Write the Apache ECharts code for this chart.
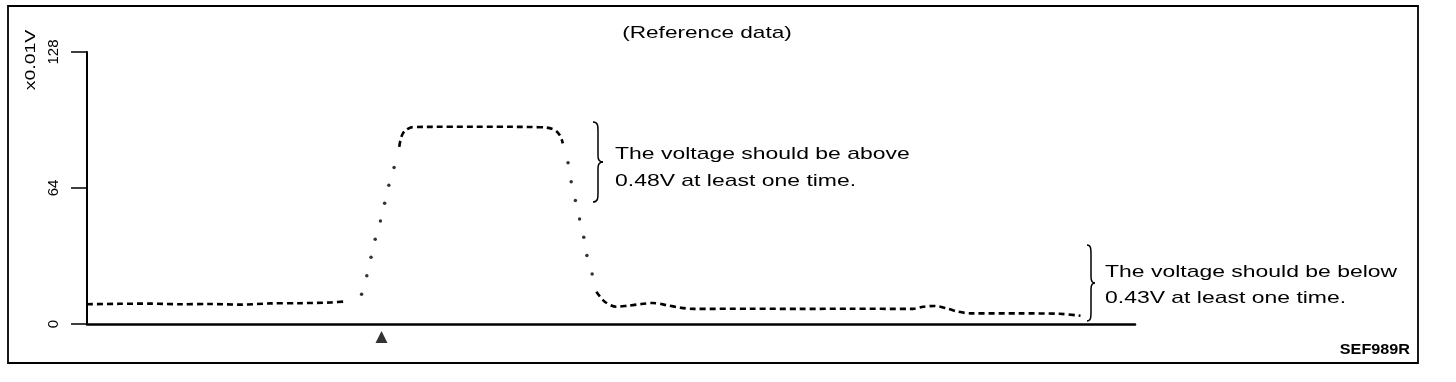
<!DOCTYPE html>
<html>
<head>
<meta charset="utf-8">
<script src="https://cdn.jsdelivr.net/npm/echarts@6/dist/echarts.min.js"></script>
<style>
html,body{margin:0;padding:0;background:#fff;}
#chart{width:1456px;height:382px;}
</style>
</head>
<body>
<div id="chart"></div>
<script>
// Values in units of x0.01 V, time in arbitrary units (0..100)
const baselineT = [0, 3.1, 6.0, 8.9, 11.7, 14.6, 17.5, 20.3, 23.2, 24.8];
const baselineV = [9.3, 9.5, 9.6, 9.3, 9.4, 9.1, 9.7, 9.8, 10.1, 10.7];
const riseT = [26.2, 26.7, 27.1, 27.5, 28.0, 28.4, 28.8, 29.3];
const riseV = [14.0, 22.7, 31.4, 39.9, 48.5, 56.8, 65.3, 73.7];
const plateauT = [29.8, 30.1, 30.7, 31.3, 34.6, 39.4, 43.2, 44.5, 45.1, 45.4];
const plateauV = [83.4, 89.3, 92.1, 92.7, 92.8, 92.8, 92.6, 91.6, 88.9, 85.0];
const fallT = [45.9, 46.2, 46.6, 47.0, 47.4, 47.7, 48.2];
const fallV = [75.9, 67.0, 58.1, 49.4, 40.8, 32.2, 23.5];
const tailT = [48.6, 49.4, 50.5, 51.6, 52.9, 54.0, 55.3, 56.6, 57.8, 63.3, 68.0, 72.8, 78.8, 79.8, 80.9, 82.0, 83.1, 84.3, 89.0, 92.8, 94.8];
const tailV = [15.2, 10.5, 8.1, 8.6, 9.4, 9.9, 8.9, 7.7, 7.1, 7.2, 7.1, 7.2, 7.1, 8.1, 8.5, 7.4, 5.8, 5.0, 5.0, 4.8, 3.9];
const markerT = [28.1];
const markerV = [-6.1];
const yTicks = [0, 64, 128];

const zip = (a, b) => a.map((v, i) => [v, b[i]]);
const dashed = {color: '#000', width: 2.6, type: [6, 4]};
const font = 'Liberation Sans, Arial, sans-serif';
const stroke = {fill: 'none', stroke: '#000', lineWidth: 1.5};

// curly brace "}" built from curves and lines
function brace(x0, xv, xt, yT, yM, yB) {
  return [
    {type: 'bezierCurve', shape: {x1: x0, y1: yT, cpx1: xv, cpy1: yT, cpx2: xv, cpy2: yT + 4, x2: xv, y2: yT + 9}, style: stroke},
    {type: 'line', shape: {x1: xv, y1: yT + 9, x2: xv, y2: yM - 6}, style: stroke},
    {type: 'bezierCurve', shape: {x1: xv, y1: yM - 6, cpx1: xv, cpy1: yM - 2, cpx2: xv + 1, cpy2: yM, x2: xt, y2: yM}, style: stroke},
    {type: 'bezierCurve', shape: {x1: xt, y1: yM, cpx1: xv + 1, cpy1: yM, cpx2: xv, cpy2: yM + 2, x2: xv, y2: yM + 6}, style: stroke},
    {type: 'line', shape: {x1: xv, y1: yM + 6, x2: xv, y2: yB - 9}, style: stroke},
    {type: 'bezierCurve', shape: {x1: xv, y1: yB - 9, cpx1: xv, cpy1: yB - 4, cpx2: xv, cpy2: yB, x2: x0, y2: yB}, style: stroke}
  ];
}
function label(text, x, y, opts) {
  opts = opts || {};
  return {type: 'text', x: x, y: y, scaleX: opts.sx || 1.35, rotation: opts.rot || 0,
    style: {text: text, font: (opts.font || '17px ') + font, fill: '#000', align: opts.align || 'left', verticalAlign: 'middle'}};
}

const chart = echarts.init(document.getElementById('chart'));
chart.setOption({
  animation: false,
  backgroundColor: '#fff',
  grid: {left: 87, right: 321, top: 52, bottom: 58, containLabel: false},
  xAxis: {
    type: 'value', min: 0, max: 100,
    axisLine: {show: true, onZero: false, lineStyle: {color: '#000', width: 2.5}},
    axisTick: {show: false}, axisLabel: {show: false}, splitLine: {show: false}
  },
  yAxis: {
    type: 'value', min: 0, max: 128, interval: 64,
    axisLine: {show: true, lineStyle: {color: '#000', width: 2}},
    axisTick: {show: true, length: 16, lineStyle: {color: '#000', width: 1.5}},
    axisLabel: {show: true, rotate: 90, margin: 26, color: '#000', fontSize: 15, fontFamily: font,
      formatter: v => yTicks.includes(v) ? String(v) : ''},
    splitLine: {show: false}
  },
  series: [
    {type: 'line', data: zip(baselineT, baselineV), showSymbol: false, smooth: 0.3, lineStyle: dashed},
    {type: 'scatter', data: zip(riseT, riseV), symbolSize: 3.5, itemStyle: {color: '#000'}},
    {type: 'line', data: zip(plateauT, plateauV), showSymbol: false, smooth: 0.4, lineStyle: dashed},
    {type: 'scatter', data: zip(fallT, fallV), symbolSize: 3.5, itemStyle: {color: '#000'}},
    {type: 'line', data: zip(tailT, tailV), showSymbol: false, smooth: 0.3, lineStyle: dashed},
    {type: 'scatter', data: zip(markerT, markerV), symbol: 'triangle', symbolSize: [12, 12], clip: false, itemStyle: {color: '#000'}}
  ],
  graphic: [
    {type: 'rect', shape: {x: 8, y: 6, width: 1410, height: 357}, style: {fill: 'none', stroke: '#000', lineWidth: 1.8}},
    label('(Reference data)', 707, 33, {align: 'center', sx: 1.33}),
    label('x0.01V', 31, 60, {rot: Math.PI / 2, font: '15px ', sx: 1.3, align: 'center'}),
    ...brace(593, 598, 603, 122, 162, 202),
    label('The voltage should be above', 615, 154),
    label('0.48V at least one time.', 615, 181),
    ...brace(1087, 1091, 1095, 245, 283, 321),
    label('The voltage should be below', 1105, 272),
    label('0.43V at least one time.', 1105, 298),
    label('SEF989R', 1410, 350, {align: 'right', font: 'bold 15px ', sx: 1.08})
  ]
});
</script>
</body>
</html>
